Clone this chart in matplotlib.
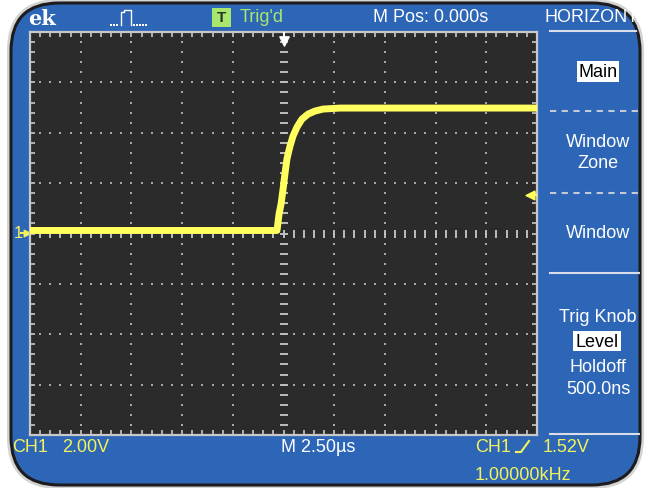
import numpy as np
import matplotlib.pyplot as plt
from matplotlib.patches import FancyBboxPatch, Rectangle

plt.rcParams['font.family'] = ['Liberation Sans', 'DejaVu Sans']

# CH1 trace (time in us, volts)
trace_t = [-12.5, -0.32, -0.22, -0.12, -0.02, 0.07, 0.17, 0.32, 0.47,
           0.67, 0.91, 1.21, 1.55, 1.95, 2.79, 12.5]
trace_v = [0.12, 0.12, 0.77, 1.17, 1.77, 2.36, 2.96, 3.47, 3.87,
           4.23, 4.54, 4.74, 4.86, 4.94, 4.98, 4.98]

us_per_div = 2.5
volt_per_div = 2.0
n_xdiv = 10
n_ydiv = 8
trig_level = 1.52

menu_top = ['Main', 'Window\nZone', 'Window']
menu_bottom = ['Trig Knob', 'Level', 'Holdoff', '500.0ns']

blue = '#2D66B7'
yellow = '#F2F25C'
trace_col = '#FFFF5E'
green = '#A8E66E'
grid_col = '#A8A8A8'
fs = 13

W, H = 645, 489
fig = plt.figure(figsize=(W / 100, H / 100), dpi=100)
fig.patch.set_facecolor('white')

# background layer in pixel coordinates
bg = fig.add_axes([0, 0, 1, 1])
bg.set_xlim(0, W)
bg.set_ylim(H, 0)
bg.axis('off')

outer = FancyBboxPatch((9, 2), 633, 486, boxstyle='round,pad=0,rounding_size=50',
                       fc='none', ec='#D4D4D4', lw=3)
bg.add_patch(outer)
panel = FancyBboxPatch((11, 4), 629, 482, boxstyle='round,pad=0,rounding_size=48',
                       fc=blue, ec='#1C1C1C', lw=2.2)
bg.add_patch(panel)

# top bar
t = bg.text(28, 19, 'ek', color='white', fontsize=15, fontweight='bold',
            family='DejaVu Serif', va='center', ha='left')
t.set_clip_path(panel)
px = [121, 121, 124, 124, 131, 131]
py = [26, 13, 13, 11, 11, 26]
bg.plot(px, py, color='white', lw=1.0)
bg.scatter([111, 114, 117, 134, 137, 140, 143, 146], [26] * 8, s=1.2, color='white', marker='s', lw=0)
bg.add_patch(Rectangle((212, 9), 19, 19, fc=green, ec='none'))
bg.text(221.5, 18.5, 'T', color='#26332A', fontsize=11, fontweight='bold', ha='center', va='center')
bg.text(240, 17, "Trig'd", color=green, fontsize=fs, ha='left', va='center')
bg.text(373, 18, 'M Pos: 0.000s', color='white', fontsize=fs, ha='left', va='center')
t = bg.text(544, 18, 'HORIZONTAL', color='white', fontsize=fs, ha='left', va='center')
t.set_clip_path(panel)
ln, = bg.plot([550, 645], [32, 32], color='#D8DDE8', lw=1.5)
ln.set_clip_path(panel)

# right menu
bg.add_patch(Rectangle((577, 62), 42, 21, fc='white', ec='none'))
bg.text(598, 72.5, menu_top[0], color='black', fontsize=fs, ha='center', va='center')
for yy in [112, 194]:
    ln, = bg.plot([550, 645], [yy, yy], color='#C4CBD8', lw=1.5, ls=(0, (3, 2.6)))
    ln.set_clip_path(panel)
bg.text(598, 153, menu_top[1], color='white', fontsize=fs, ha='center', va='center',
        linespacing=1.3)
bg.text(598, 233, menu_top[2], color='white', fontsize=fs, ha='center', va='center')
for yy in [274, 435]:
    ln, = bg.plot([550, 645], [yy, yy], color='#D8DDE8', lw=1.5)
    ln.set_clip_path(panel)
bg.text(598, 318, menu_bottom[0], color='white', fontsize=fs, ha='center', va='center')
bg.add_patch(Rectangle((573, 332), 48, 20, fc='white', ec='none'))
bg.text(597, 342.5, menu_bottom[1], color='black', fontsize=fs, ha='center', va='center')
bg.text(598, 367, menu_bottom[2], color='white', fontsize=fs, ha='center', va='center')
bg.text(598, 390, menu_bottom[3], color='white', fontsize=fs, ha='center', va='center')

# bottom readouts
t = bg.text(12, 448, 'CH1', color=yellow, fontsize=fs, ha='left', va='center')
t.set_clip_path(panel)
bg.text(62, 448, '%.2fV' % volt_per_div, color=yellow, fontsize=fs, ha='left', va='center')
bg.text(281, 448, 'M %.2f\u00b5s' % us_per_div, color='white', fontsize=fs, ha='left', va='center')
bg.text(475, 448, 'CH1', color=yellow, fontsize=fs, ha='left', va='center')
bg.plot([516, 521, 529], [453, 453, 442], color=yellow, lw=1.5)
bg.text(543, 448, '%.2fV' % trig_level, color=yellow, fontsize=fs, ha='left', va='center')
bg.text(475, 476, '1.00000kHz', color=yellow, fontsize=fs, ha='left', va='center')

# ground marker of CH1
bg.text(14, 234, '1', color=yellow, fontsize=12, ha='left', va='center')
bg.plot([21, 28], [234, 234], color=yellow, lw=1.5)
bg.scatter([27], [234], marker='>', s=22, color=yellow)

# scope screen
xr = n_xdiv / 2 * us_per_div
yr = n_ydiv / 2 * volt_per_div
ax = fig.add_axes([30 / W, (H - 436) / H, 507 / W, 403 / H])
ax.set_facecolor('#2B2B2B')
ax.set_xlim(-xr, xr)
ax.set_ylim(-yr, yr)
for s in ax.spines.values():
    s.set_color('#C8C8C8')
    s.set_linewidth(1.6)
sub_x = np.arange(-xr, xr + 1e-9, us_per_div / 5)
sub_y = np.arange(-yr, yr + 1e-9, volt_per_div / 5)
ax.set_xticks(sub_x)
ax.set_yticks(sub_y)
ax.tick_params(direction='in', length=3.5, width=1.2, color='#C8C8C8',
               top=True, right=True, labelbottom=False, labelleft=False)

# dotted graticule
for i in range(1, n_xdiv):
    gx = -xr + i * us_per_div
    if abs(gx) < 1e-9:
        continue
    ax.scatter(np.full(len(sub_y), gx), sub_y, s=1.8, marker='s', color=grid_col, lw=0)
for j in range(1, n_ydiv):
    gy = -yr + j * volt_per_div
    if abs(gy) < 1e-9:
        continue
    ax.scatter(sub_x, np.full(len(sub_x), gy), s=1.8, marker='s', color=grid_col, lw=0)
# center cross with small ticks
ax.scatter(np.zeros(len(sub_y)), sub_y, marker='_', s=30, lw=1.3, color='#C8C8C8')
ax.scatter(sub_x, np.zeros(len(sub_x)), marker='|', s=26, lw=1.3, color='#C8C8C8')

# trace
ax.plot(trace_t, trace_v, color=trace_col, lw=5.0, solid_joinstyle='round',
        solid_capstyle='butt', zorder=5)

# trigger position and level markers
ax.plot([0, 0], [yr, yr - 0.2], color='white', lw=1.5, zorder=6)
ax.scatter([0], [yr - 0.36], marker='v', s=45, color='white', zorder=6)
ax.scatter([xr - 0.35], [trig_level], marker='<', s=40, color=trace_col, zorder=6, clip_on=False)
ax.plot([xr - 0.3, xr], [trig_level, trig_level], color=trace_col, lw=1.5, zorder=6)

fig.savefig('out.png', dpi=100, facecolor='white')
